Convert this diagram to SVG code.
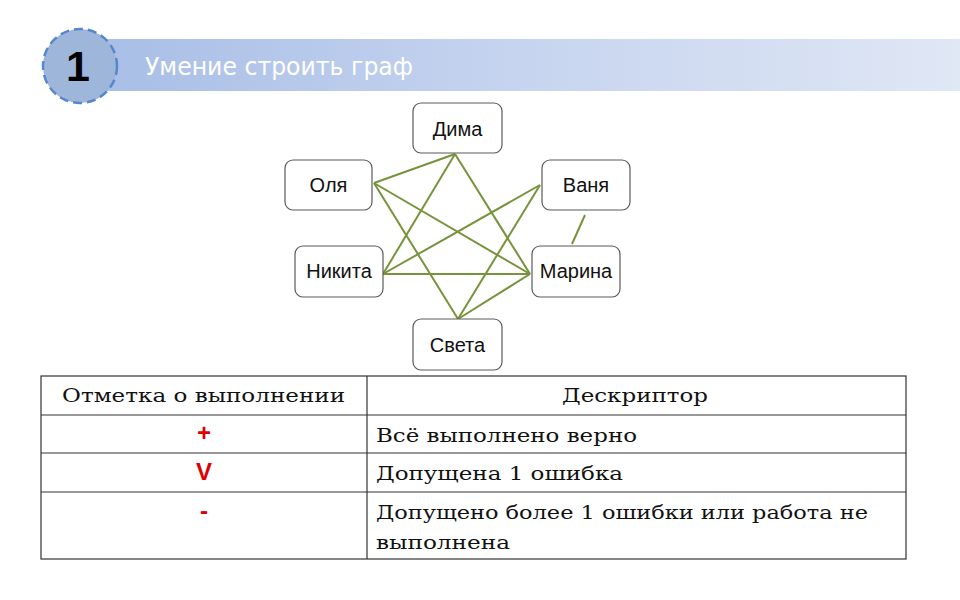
<svg xmlns="http://www.w3.org/2000/svg" width="960" height="600" viewBox="0 0 960 600">
  <defs>
    <linearGradient id="band" x1="0" y1="0" x2="1" y2="0">
      <stop offset="0" stop-color="#a7bde6"/>
      <stop offset="0.5" stop-color="#c6d4ef"/>
      <stop offset="1" stop-color="#e0e7f5"/>
    </linearGradient>
  </defs>
  <style>
    .node rect { fill: #ffffff; stroke: #5a5a5a; stroke-width: 1.2; }
    .node text { font-family: "Liberation Sans", Arial, sans-serif; font-size: 20px; fill: #111; text-anchor: middle; }
    .edge { stroke: #77933c; stroke-width: 2; fill: none; }
    .cell { font-family: "DejaVu Serif", "Liberation Serif", serif; font-size: 19px; fill: #111; }
    .mark { font-family: "Liberation Sans", Arial, sans-serif; font-size: 24px; font-weight: bold; fill: #e00000; text-anchor: middle; }
    .grid { stroke: #333; stroke-width: 1.2; fill: none; }
  </style>
  <rect width="960" height="600" fill="#ffffff"/>

  <g id="header">
    <rect x="80" y="39" width="880" height="52" fill="url(#band)"/>
    <circle cx="80" cy="66" r="37" fill="#9fb6db" stroke="#5687cc" stroke-width="2.5" stroke-dasharray="9 5"/>
    <text x="78" y="81" font-family="Liberation Sans, Arial, sans-serif" font-size="43" font-weight="bold" fill="#000" text-anchor="middle">1</text>
    <text x="145" y="75" font-family="DejaVu Sans, sans-serif" font-size="24" fill="#ffffff" textLength="268" lengthAdjust="spacingAndGlyphs">Умение строить граф</text>
  </g>

  <g id="connectors">
    <line class="edge" x1="374" y1="183" x2="455" y2="154"/>
    <line class="edge" x1="374" y1="183" x2="530" y2="274"/>
    <line class="edge" x1="374" y1="183" x2="458" y2="319"/>
    <line class="edge" x1="455" y1="154" x2="383" y2="274"/>
    <line class="edge" x1="455" y1="154" x2="530" y2="274"/>
    <line class="edge" x1="540" y1="185" x2="383" y2="274"/>
    <line class="edge" x1="540" y1="185" x2="458" y2="319"/>
    <line class="edge" x1="383" y1="274" x2="530" y2="274"/>
    <line class="edge" x1="530" y1="274" x2="458" y2="319"/>
    <line class="edge" x1="585" y1="215" x2="572" y2="244"/>
  </g>

  <g id="node-dima" class="node">
    <rect x="413" y="103" width="89" height="50" rx="8"/>
    <text x="457.5" y="135.5">Дима</text>
  </g>
  <g id="node-olya" class="node">
    <rect x="285" y="160" width="87" height="50" rx="8"/>
    <text x="328.5" y="192">Оля</text>
  </g>
  <g id="node-vanya" class="node">
    <rect x="542" y="160" width="88" height="50" rx="8"/>
    <text x="586" y="192">Ваня</text>
  </g>
  <g id="node-nikita" class="node">
    <rect x="295" y="246" width="88" height="51" rx="8"/>
    <text x="339" y="278">Никита</text>
  </g>
  <g id="node-marina" class="node">
    <rect x="532" y="246" width="88" height="51" rx="8"/>
    <text x="576" y="278">Марина</text>
  </g>
  <g id="node-sveta" class="node">
    <rect x="413" y="319" width="89" height="51" rx="8"/>
    <text x="457.5" y="352">Света</text>
  </g>

  <g id="table">
    <rect class="grid" x="41" y="376" width="865" height="183"/>
    <line class="grid" x1="41" y1="415" x2="906" y2="415"/>
    <line class="grid" x1="41" y1="453" x2="906" y2="453"/>
    <line class="grid" x1="41" y1="492" x2="906" y2="492"/>
    <line class="grid" x1="367" y1="376" x2="367" y2="559"/>
    <text class="cell" x="62" y="402" textLength="283" lengthAdjust="spacingAndGlyphs">Отметка о выполнении</text>
    <text class="cell" x="562" y="402" textLength="146" lengthAdjust="spacingAndGlyphs">Дескриптор</text>
    <text class="mark" x="204" y="441">+</text>
    <text class="cell" x="376" y="442" textLength="261" lengthAdjust="spacingAndGlyphs">Всё выполнено верно</text>
    <text class="mark" x="204" y="480">V</text>
    <text class="cell" x="376" y="480" textLength="247" lengthAdjust="spacingAndGlyphs">Допущена 1 ошибка</text>
    <text class="mark" x="204" y="519">-</text>
    <text class="cell" x="376" y="519" textLength="492" lengthAdjust="spacingAndGlyphs">Допущено более 1 ошибки или работа не</text>
    <text class="cell" x="376" y="549" textLength="134" lengthAdjust="spacingAndGlyphs">выполнена</text>
  </g>
</svg>
